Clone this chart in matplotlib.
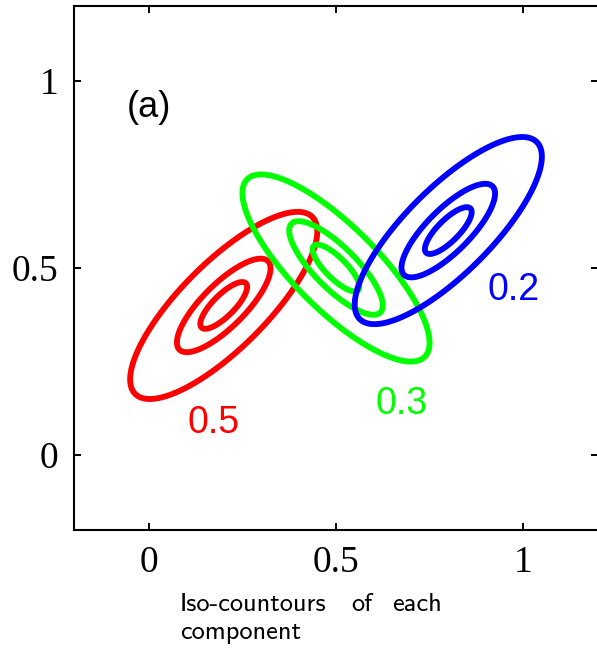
import numpy as np
import matplotlib.pyplot as plt

# mixture components: means, std devs, correlations, mixing weights
means = [(0.2, 0.4), (0.5, 0.5), (0.8, 0.6)]
stds = [(0.1, 0.1), (0.1, 0.1), (0.1, 0.1)]
corrs = [0.79, -0.80, 0.79]
weights = ['0.5', '0.3', '0.2']
colors = ['#ff0000', '#00ff00', '#0000ff']

# Mahalanobis radii of the drawn iso-contours
radii = [0.625, 1.25, 2.5]

ticks = [0, 0.5, 1]
tick_labels = ['0', '0.5', '1']

# where the weight labels go (data coords)
label_pos = [(0.172, 0.060), (0.676, 0.110), (0.974, 0.414)]

W, H = 597, 652
fig = plt.figure(figsize=(W / 100, H / 100), dpi=100)
ax = fig.add_axes([74 / W, (H - 530) / H, 524 / W, 524 / H])

gx = np.linspace(-0.2, 1.2, 700)
X, Y = np.meshgrid(gx, gx)

for (mx, my), (sx, sy), r, c in zip(means, stds, corrs, colors):
    dx = (X - mx) / sx
    dy = (Y - my) / sy
    d = np.sqrt((dx ** 2 - 2 * r * dx * dy + dy ** 2) / (1 - r ** 2))
    ax.contour(X, Y, d, levels=radii, colors=c, linewidths=4.2)

for w, (lx, ly), c in zip(weights, label_pos, colors):
    ax.text(lx, ly, w, color=c, fontsize=27, ha='center', va='baseline',
            family='Liberation Sans')

ax.text(0.0, 0.904, '(a)', fontsize=26, ha='center', va='baseline',
        family='Liberation Sans')

ax.set_xlim(-0.2, 1.2)
ax.set_ylim(-0.2, 1.2)
ax.set_xticks(ticks)
ax.set_xticklabels(tick_labels)
ax.set_yticks(ticks)
ax.set_yticklabels(tick_labels)
ax.tick_params(direction='in', top=True, right=True, length=5, width=1.4,
               labelsize=27, pad=11)
for lab in ax.get_xticklabels() + ax.get_yticklabels():
    lab.set_fontfamily('Liberation Serif')
for s in ax.spines.values():
    s.set_linewidth(1.5)
# right edge of the box falls just outside the picture
ax.spines['right'].set_visible(False)

# caption under the plot
cap = dict(fontsize=19, family='cmss10', va='baseline', ha='left')
fig.text(180 / W, 1 - 611 / H, 'Iso-countours', **cap)
fig.text(351 / W, 1 - 611 / H, 'of', **cap)
fig.text(392 / W, 1 - 611 / H, 'each', **cap)
fig.text(180 / W, 1 - 639 / H, 'component', **cap)

fig.savefig('out.png', dpi=100)
